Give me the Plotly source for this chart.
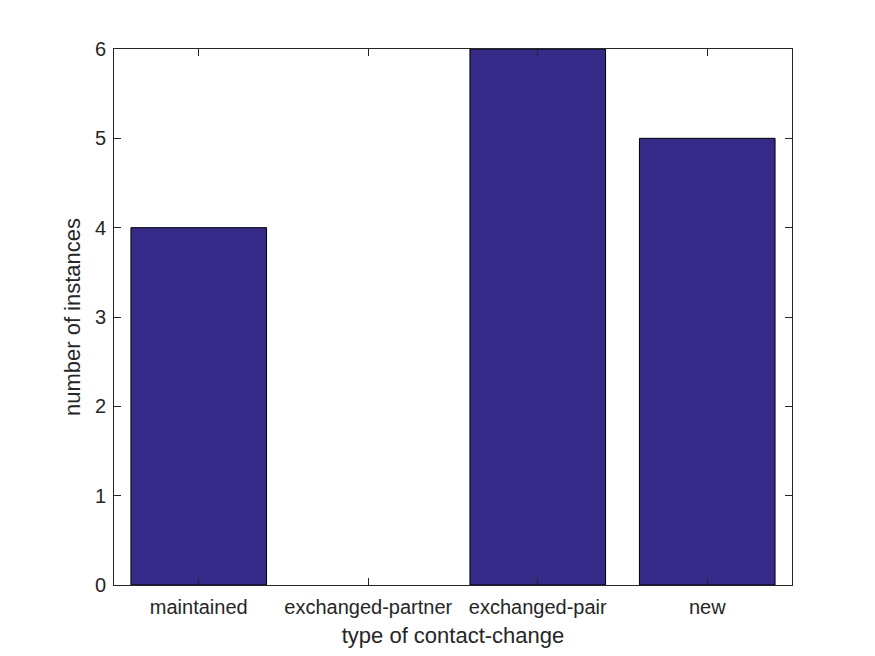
import plotly.graph_objects as go

categories = ["maintained", "exchanged-partner", "exchanged-pair", "new"]
counts = [4, 0, 6, 5]
y_ticks = [0, 1, 2, 3, 4, 5, 6]

FONT = "Liberation Sans, Arial, sans-serif"

fig = go.Figure()
fig.add_trace(go.Bar(
    x=list(range(len(categories))),
    y=counts,
    width=0.8,
    marker=dict(color="#352a87",
                line=dict(color="black", width=[1 if c > 0 else 0 for c in counts])),
))

axis_common = dict(
    showline=True, linecolor="#262626", linewidth=1, mirror="ticks",
    ticks="inside", ticklen=7, tickcolor="#262626", tickwidth=1,
    showgrid=False, zeroline=False,
    tickfont=dict(family=FONT, size=20, color="#262626"),
    title_font=dict(family=FONT, size=22, color="#262626"),
)

fig.update_layout(
    width=867, height=648,
    margin=dict(l=106, r=83, t=41, b=71),
    paper_bgcolor="white", plot_bgcolor="white",
    showlegend=False,
    xaxis=dict(
        range=[-0.5, 3.5],
        tickmode="array",
        tickvals=list(range(len(categories))),
        ticktext=categories,
        ticklabelstandoff=4,
        title=dict(text="type of contact-change", standoff=10),
        **axis_common,
    ),
    yaxis=dict(
        range=[0, 6],
        tickmode="array",
        tickvals=y_ticks,
        ticklabelstandoff=3,
        title=dict(text="number of instances", standoff=8),
        **axis_common,
    ),
)

fig.write_html("out.html")
